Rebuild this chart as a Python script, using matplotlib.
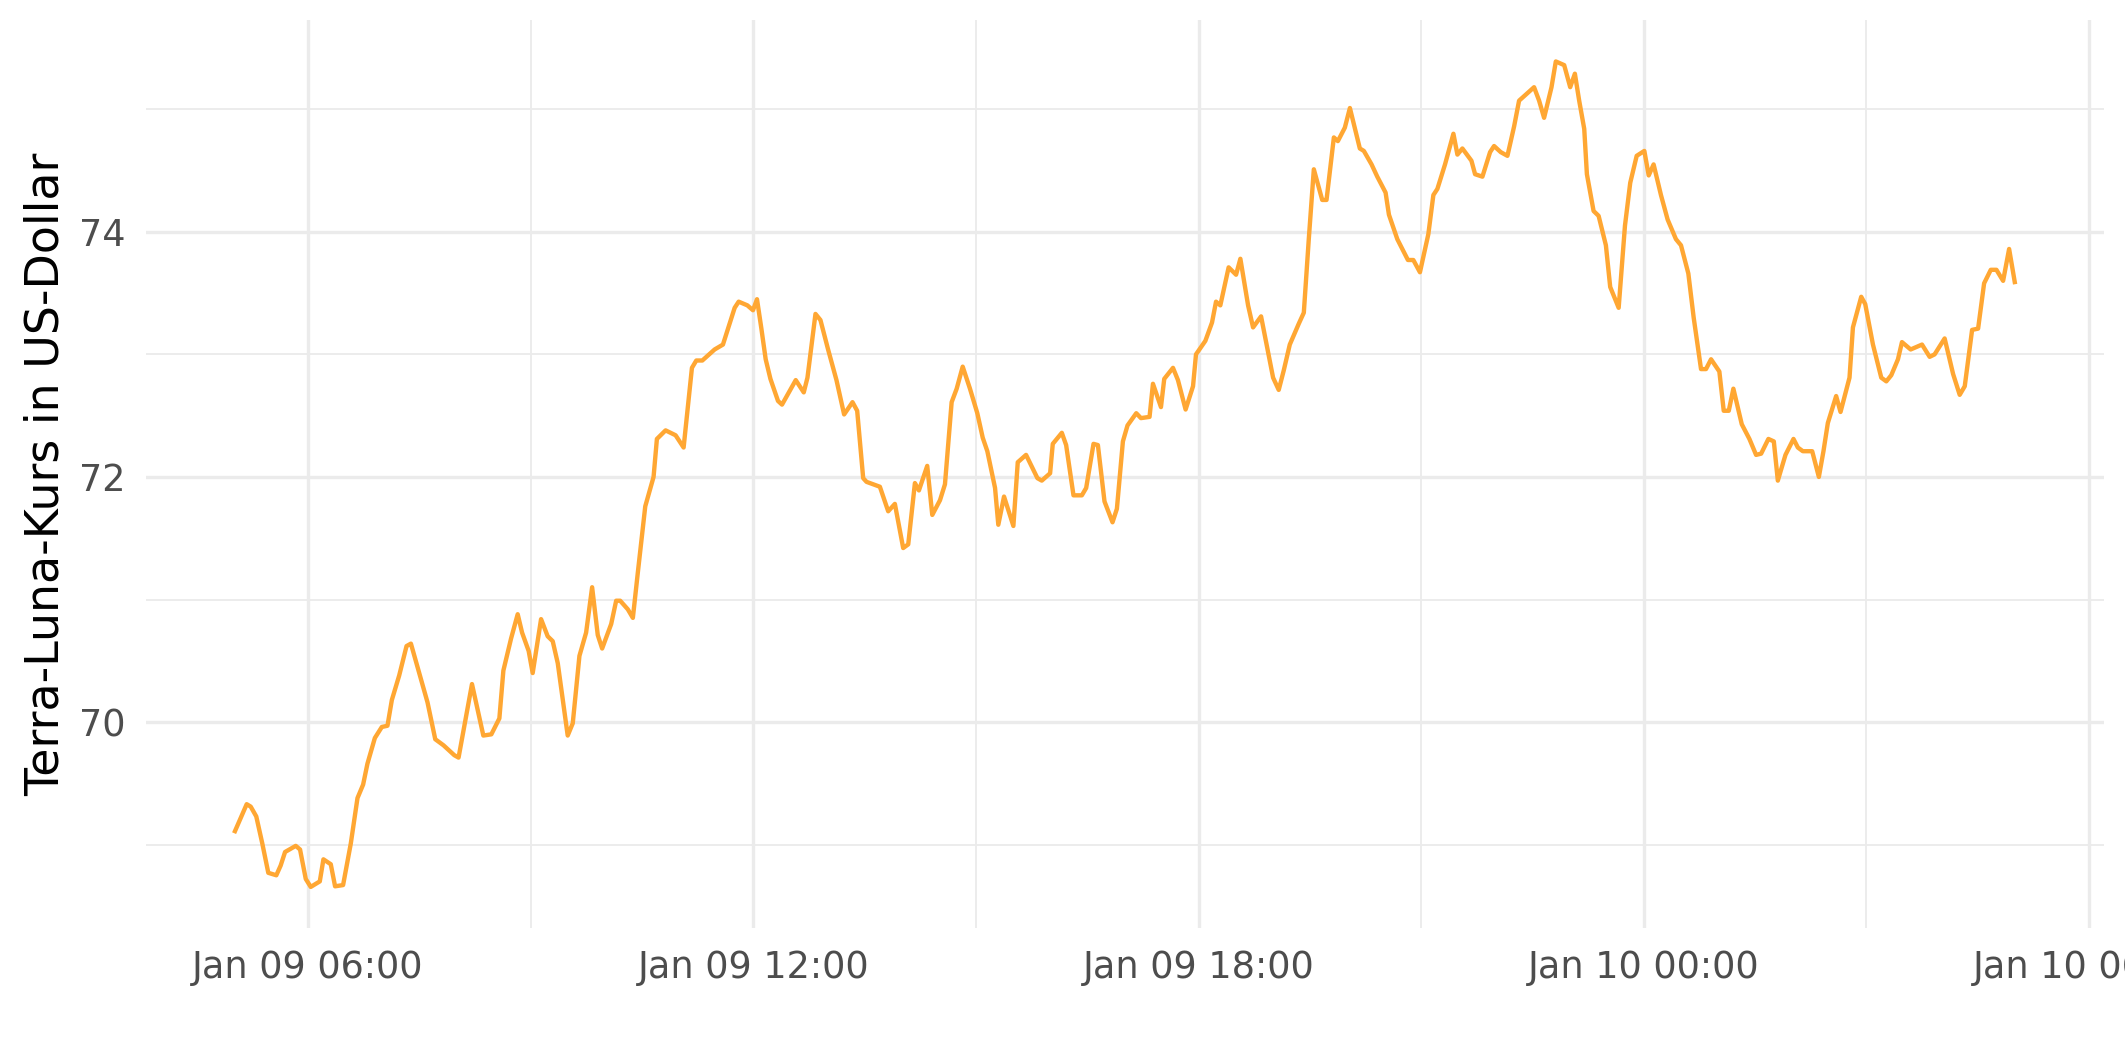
import matplotlib
matplotlib.use("Agg")
import matplotlib.pyplot as plt
import matplotlib.dates as mdates
import pandas as pd

# Stunden ab 09.01.2022 00:00 und Kurs in USD
hours = [
    5.015, 5.173, 5.227, 5.302, 5.383, 5.464, 5.572, 5.631, 5.690, 5.834, 5.892, 5.969,
    6.036, 6.158, 6.207, 6.306, 6.364, 6.472, 6.576, 6.666, 6.742, 6.800, 6.900, 6.994,
    7.070, 7.129, 7.228, 7.327, 7.386, 7.498, 7.610, 7.714, 7.826, 7.970, 8.028, 8.209,
    8.362, 8.470, 8.578, 8.632, 8.735, 8.825, 8.884, 8.973, 9.027, 9.140, 9.229, 9.297,
    9.365, 9.499, 9.567, 9.657, 9.747, 9.828, 9.904, 9.963, 10.085, 10.152, 10.206, 10.309,
    10.377, 10.444, 10.544, 10.656, 10.701, 10.818, 10.953, 11.061, 11.173, 11.232, 11.313,
    11.479, 11.591, 11.659, 11.749, 11.803, 11.920, 11.996, 12.050, 12.109, 12.167, 12.231,
    12.333, 12.387, 12.572, 12.680, 12.730, 12.838, 12.905, 13.008, 13.121, 13.224, 13.337,
    13.400, 13.481, 13.526, 13.706, 13.818, 13.908, 14.020, 14.088, 14.178, 14.232, 14.344,
    14.412, 14.516, 14.583, 14.673, 14.741, 14.822, 14.920, 15.019, 15.092, 15.154, 15.258,
    15.302, 15.379, 15.505, 15.564, 15.676, 15.829, 15.888, 16.000, 16.036, 16.158, 16.216,
    16.315, 16.428, 16.486, 16.585, 16.644, 16.733, 16.841, 16.900, 16.981, 17.043, 17.161,
    17.224, 17.340, 17.386, 17.494, 17.538, 17.656, 17.723, 17.826, 17.926, 17.966, 18.092,
    18.182, 18.236, 18.294, 18.406, 18.506, 18.564, 18.668, 18.735, 18.843, 18.901, 19.005,
    19.081, 19.149, 19.230, 19.351, 19.419, 19.486, 19.554, 19.667, 19.725, 19.824, 19.878,
    19.972, 20.040, 20.174, 20.228, 20.332, 20.409, 20.521, 20.566, 20.679, 20.822, 20.895,
    20.984, 21.097, 21.165, 21.219, 21.322, 21.435, 21.489, 21.556, 21.678, 21.727, 21.826,
    21.929, 21.983, 22.073, 22.163, 22.253, 22.320, 22.522, 22.590, 22.657, 22.757, 22.815,
    22.928, 23.009, 23.072, 23.130, 23.198, 23.234, 23.324, 23.392, 23.490, 23.548, 23.662,
    23.747, 23.818, 23.905, 24.008, 24.067, 24.133, 24.232, 24.322, 24.434, 24.502, 24.601,
    24.673, 24.772, 24.839, 24.907, 25.019, 25.078, 25.146, 25.208, 25.321, 25.424, 25.514,
    25.582, 25.680, 25.753, 25.807, 25.910, 26.018, 26.077, 26.144, 26.270, 26.360, 26.422,
    26.481, 26.593, 26.652, 26.773, 26.819, 26.931, 26.985, 27.089, 27.201, 27.269, 27.336,
    27.426, 27.480, 27.597, 27.750, 27.853, 27.920, 28.055, 28.169, 28.258, 28.326, 28.425,
    28.506, 28.587, 28.677, 28.753, 28.843, 28.924, 29.000,
]
price = [
    69.11, 69.33, 69.31, 69.23, 69.01, 68.77, 68.75, 68.83, 68.94, 68.99, 68.96, 68.72,
    68.655, 68.70, 68.88, 68.84, 68.66, 68.67, 69.01, 69.38, 69.49, 69.66, 69.87, 69.96,
    69.97, 70.18, 70.38, 70.62, 70.64, 70.40, 70.16, 69.86, 69.81, 69.73, 69.71, 70.31,
    69.89, 69.90, 70.03, 70.42, 70.68, 70.88, 70.73, 70.58, 70.40, 70.84, 70.70, 70.66,
    70.48, 69.89, 69.99, 70.54, 70.73, 71.10, 70.71, 70.60, 70.80, 70.99, 70.99, 70.92,
    70.85, 71.22, 71.76, 72.00, 72.31, 72.38, 72.34, 72.24, 72.89, 72.95, 72.95,
    73.04, 73.08, 73.21, 73.38, 73.43, 73.40, 73.36, 73.45, 73.21, 72.96, 72.80,
    72.62, 72.59, 72.79, 72.69, 72.81, 73.33, 73.28, 73.04, 72.79, 72.51, 72.61,
    72.54, 71.99, 71.96, 71.92, 71.72, 71.78, 71.42, 71.45, 71.95, 71.89, 72.09,
    71.69, 71.81, 71.94, 72.61, 72.72, 72.90, 72.72, 72.52, 72.32, 72.21, 71.91,
    71.61, 71.84, 71.60, 72.12, 72.18, 71.99, 71.97, 72.03, 72.27, 72.36, 72.26,
    71.85, 71.85, 71.91, 72.27, 72.26, 71.80, 71.63, 71.74, 72.29, 72.42, 72.52,
    72.48, 72.49, 72.76, 72.57, 72.80, 72.89, 72.79, 72.55, 72.74, 73.00, 73.11,
    73.26, 73.43, 73.40, 73.71, 73.65, 73.78, 73.40, 73.22, 73.31, 73.13, 72.81,
    72.71, 72.87, 73.08, 73.25, 73.34, 73.94, 74.51, 74.26, 74.26, 74.77, 74.74,
    74.85, 75.01, 74.68, 74.66, 74.55, 74.45, 74.32, 74.14, 73.94, 73.77, 73.77,
    73.67, 73.98, 74.30, 74.35, 74.55, 74.80, 74.63, 74.68, 74.58, 74.47, 74.45,
    74.65, 74.70, 74.65, 74.62, 74.86, 75.07, 75.18, 75.07, 74.93, 75.18, 75.39,
    75.36, 75.18, 75.29, 75.07, 74.84, 74.47, 74.17, 74.13, 73.89, 73.55, 73.38,
    74.05, 74.40, 74.62, 74.66, 74.46, 74.55, 74.30, 74.10, 73.94, 73.89, 73.66,
    73.30, 72.88, 72.88, 72.96, 72.86, 72.54, 72.54, 72.72, 72.43, 72.31, 72.18,
    72.19, 72.31, 72.29, 71.97, 72.18, 72.31, 72.24, 72.21, 72.21, 72.00, 72.21,
    72.44, 72.66, 72.53, 72.81, 73.22, 73.47, 73.41, 73.08, 72.81, 72.78, 72.83,
    72.96, 73.10, 73.04, 73.08, 72.98, 73.00, 73.13, 72.84, 72.67, 72.74, 73.20,
    73.21, 73.58, 73.69, 73.69, 73.60, 73.86, 73.59,
]

y_ticks = [70, 72, 74]
y_minor = [69, 71, 73, 75]

times = pd.Timestamp("2022-01-09") + pd.to_timedelta(hours, unit="h")

fig = plt.figure(figsize=(2125 / 300, 1062 / 300), dpi=300)
ax = fig.add_axes([0.0687, 0.126, 0.9213, 0.855])

ax.plot(times, price, color="#FFA733", linewidth=1.05, zorder=3)
ax.margins(x=0.05, y=0.05)

ax.xaxis.set_major_locator(mdates.HourLocator(byhour=[0, 6, 12, 18]))
ax.xaxis.set_minor_locator(mdates.HourLocator(byhour=[3, 9, 15, 21]))
ax.xaxis.set_major_formatter(mdates.DateFormatter("%b %d %H:%M"))
ax.set_yticks(y_ticks)
ax.set_yticks(y_minor, minor=True)

ax.grid(True, which="major", color="#EBEBEB", linewidth=0.8, zorder=0)
ax.grid(True, which="minor", color="#EBEBEB", linewidth=0.45, zorder=0)
ax.set_axisbelow(True)

for s in ax.spines.values():
    s.set_visible(False)
ax.tick_params(which="both", length=0)
ax.tick_params(axis="both", which="major", labelsize=8.8, labelcolor="#4D4D4D", pad=5)

# Achsentitel etwas näher an die Ticklabels
ax.set_ylabel("Terra-Luna-Kurs in US-Dollar", fontsize=11, color="black", labelpad=2.5)

fig.savefig("out.png", dpi=300)
